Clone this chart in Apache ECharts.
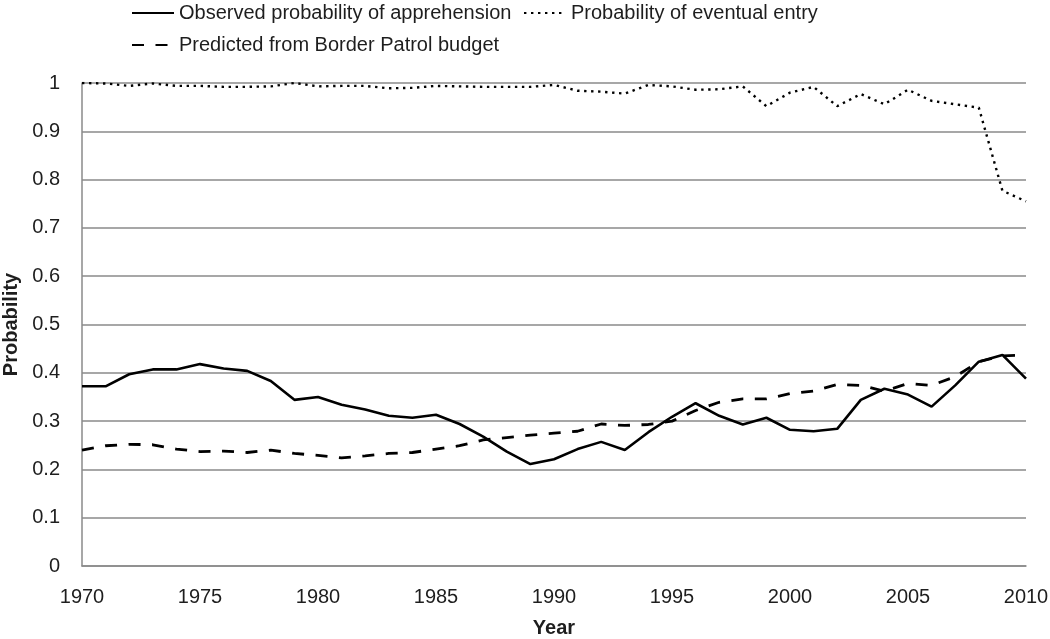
<!DOCTYPE html>
<html>
<head>
<meta charset="utf-8">
<script src="https://cdn.jsdelivr.net/npm/echarts@6/dist/echarts.min.js"></script>
<style>
html,body{margin:0;padding:0;background:#fff;}
#chart{width:1050px;height:639px;}
</style>
</head>
<body>
<div id="chart"></div>
<script>
const years = [1970,1971,1972,1973,1974,1975,1976,1977,1978,1979,1980,1981,1982,1983,1984,1985,1986,1987,1988,1989,1990,1991,1992,1993,1994,1995,1996,1997,1998,1999,2000,2001,2002,2003,2004,2005,2006,2007,2008,2009,2010];

const observed = [0.372,0.372,0.397,0.407,0.407,0.418,0.409,0.404,0.383,0.344,0.350,0.334,0.324,0.311,0.307,0.313,0.294,0.268,0.237,0.211,0.221,0.242,0.257,0.240,0.277,0.309,0.337,0.311,0.293,0.307,0.282,0.279,0.284,0.344,0.367,0.355,0.330,0.374,0.423,0.437,0.388];

const eventualEntry = [1.000,0.999,0.994,0.999,0.994,0.994,0.992,0.992,0.993,1.000,0.993,0.994,0.994,0.989,0.990,0.994,0.993,0.992,0.992,0.992,0.996,0.984,0.982,0.978,0.996,0.993,0.986,0.987,0.993,0.952,0.980,0.992,0.952,0.977,0.956,0.986,0.963,0.956,0.949,0.777,0.755];

const predicted = [0.240,0.249,0.252,0.251,0.242,0.237,0.238,0.235,0.240,0.233,0.229,0.224,0.228,0.233,0.235,0.242,0.249,0.261,0.266,0.271,0.275,0.279,0.294,0.291,0.293,0.300,0.322,0.339,0.346,0.346,0.357,0.362,0.376,0.374,0.362,0.378,0.374,0.392,0.423,0.435,0.437];

const yTicks = [0,0.1,0.2,0.3,0.4,0.5,0.6,0.7,0.8,0.9,1];

const names = {
  obs: 'Observed probability of apprehension',
  entry: 'Probability of eventual entry',
  pred: 'Predicted from Border Patrol budget'
};

const FONT = '"Liberation Sans", Arial, sans-serif';
const TXT = '#1e1e1e';
const GRID = '#8a8a8a';

const pairs = vals => years.map((y, i) => [y, vals[i]]);

const legendBase = {
  orient: 'horizontal',
  padding: 0,
  itemWidth: 42,
  itemHeight: 14,
  itemGap: 0,
  itemStyle: {opacity: 0, borderWidth: 0},
  textStyle: {fontFamily: FONT, fontSize: 20, color: TXT},
  selectedMode: false
};

const chart = echarts.init(document.getElementById('chart'), null, {renderer: 'canvas'});
chart.setOption({
  animation: false,
  backgroundColor: '#fff',
  textStyle: {fontFamily: FONT},
  legend: [
    Object.assign({}, legendBase, {left: 131, top: 3, data: [names.obs]}),
    Object.assign({}, legendBase, {left: 523, top: 3, data: [names.entry]}),
    Object.assign({}, legendBase, {left: 131, top: 35, data: [names.pred]})
  ],
  grid: {left: 82, right: 24, top: 83, bottom: 73, containLabel: false, outerBoundsMode: 'none'},
  xAxis: {
    type: 'value',
    min: 1970, max: 2010, interval: 5,
    name: 'Year',
    nameLocation: 'middle',
    nameGap: 52,
    nameTextStyle: {fontFamily: FONT, fontSize: 20, fontWeight: 'bold', color: TXT},
    axisLine: {show: true, lineStyle: {color: GRID, width: 1.5}},
    axisTick: {show: false},
    splitLine: {show: false},
    axisLabel: {fontFamily: FONT, fontSize: 20, color: TXT, margin: 21, formatter: v => String(v)}
  },
  yAxis: {
    type: 'value',
    min: 0, max: 1, interval: 0.1,
    name: 'Probability',
    nameLocation: 'middle',
    nameGap: 57,
    nameRotate: 90,
    nameTextStyle: {fontFamily: FONT, fontSize: 20, fontWeight: 'bold', color: TXT},
    axisLine: {show: true, lineStyle: {color: GRID, width: 1.5}},
    axisTick: {show: false},
    splitLine: {show: true, lineStyle: {color: GRID, width: 1.5}},
    axisLabel: {
      fontFamily: FONT, fontSize: 20, color: TXT, margin: 22,
      formatter: v => {
        const t = yTicks.find(k => Math.abs(k - v) < 1e-6);
        return t === undefined ? '' : String(t);
      }
    }
  },
  series: [
    {
      name: names.obs, type: 'line', data: pairs(observed),
      symbol: 'none', smooth: false,
      lineStyle: {color: '#000', width: 2.6, type: 'solid'},
      itemStyle: {color: '#000'}
    },
    {
      name: names.entry, type: 'line', data: pairs(eventualEntry),
      symbol: 'none', smooth: false,
      lineStyle: {color: '#000', width: 2.4, type: [2.4, 4.6], cap: 'butt'},
      itemStyle: {color: '#000'}
    },
    {
      name: names.pred, type: 'line', data: pairs(predicted),
      symbol: 'none', smooth: false,
      lineStyle: {color: '#000', width: 2.8, type: [12, 11.5], cap: 'butt'},
      itemStyle: {color: '#000'}
    }
  ]
});
</script>
</body>
</html>
